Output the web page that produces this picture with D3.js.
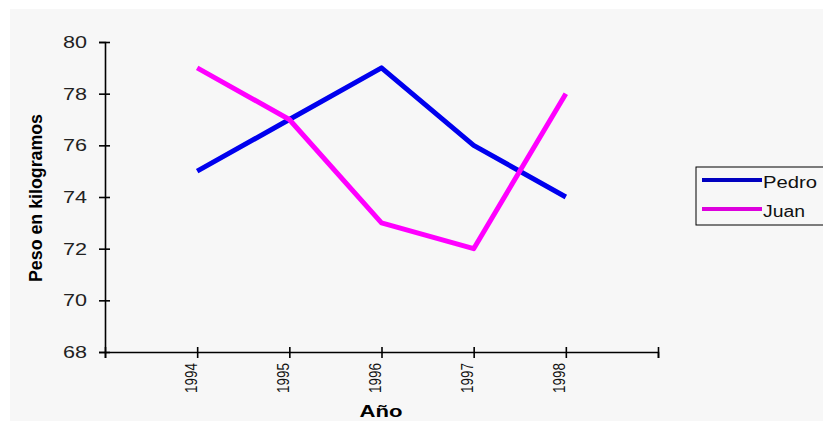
<!DOCTYPE html>
<html><head><meta charset="utf-8">
<script src="https://cdn.jsdelivr.net/npm/d3@7"></script>
<style>body{margin:0;background:#fff}svg{display:block}</style>
</head><body><svg id="c" width="823" height="423"></svg>
<script>
const years = [1994, 1995, 1996, 1997, 1998];
const pedro = [75, 77, 79, 76, 74];
const juan = [79, 77, 73, 72, 78];
const yTicks = [68, 70, 72, 74, 76, 78, 80];
const seriesNames = ["Pedro", "Juan"];
const seriesColors = ["#0000ee", "#ff00ff"];
const legendColors = ["#0000c0", "#dd00dd"];

const svg = d3.select("#c");
svg.append("rect").attr("x", 10).attr("y", 9).attr("width", 813).attr("height", 412).attr("fill", "#f7f7f7");

const x = d3.scaleLinear().domain([1993, 1999]).range([105, 658]);
const y = d3.scaleLinear().domain([68, 80]).range([352, 42]);

const font = "Arial, 'Liberation Sans', sans-serif";

// Y axis
const ya = svg.append("g").attr("transform", "translate(105,0)")
  .call(d3.axisLeft(y).tickValues(yTicks).tickSize(6).tickPadding(12).tickFormat(d3.format("d")));
ya.selectAll(".tick line").attr("x1", 5).attr("x2", -6);
// X axis
const xa = svg.append("g").attr("transform", "translate(0,352)")
  .call(d3.axisBottom(x).tickValues([1993,1994,1995,1996,1997,1998,1999]).tickSize(6).tickFormat(d => years.includes(d) ? d : ""));
xa.selectAll(".tick line").attr("y1", -5).attr("y2", 6);
[ya, xa].forEach(g => {
  g.select(".domain").attr("stroke", "#000").attr("stroke-width", 1.6);
  g.selectAll(".tick line").attr("stroke", "#000").attr("stroke-width", 1.6);
  g.selectAll(".tick text").attr("font-family", font).attr("fill", "#222");
});
ya.selectAll(".tick text").attr("font-size", 17).attr("textLength", 24).attr("lengthAdjust", "spacingAndGlyphs");
xa.selectAll(".tick text").attr("transform", "rotate(-90)").attr("text-anchor", "end")
  .attr("x", -11).attr("y", -1).attr("dy", 0).style("font-size", "16px").attr("fill", "#111")
  .filter(function() { return this.textContent !== ""; })
  .attr("textLength", 30).attr("lengthAdjust", "spacingAndGlyphs");

// Lines
const line = d3.line().x((d, i) => x(years[i])).y(d => y(d));
[pedro, juan].forEach((s, k) => {
  svg.append("path").datum(s).attr("d", line).attr("fill", "none")
    .attr("stroke", seriesColors[k]).attr("stroke-width", 5).attr("stroke-linejoin", "round");
});

// Titles
svg.append("text").attr("x", 381).attr("y", 417).attr("text-anchor", "middle")
  .attr("font-family", font).attr("font-weight", "bold").attr("font-size", 17)
  .attr("textLength", 43).attr("lengthAdjust", "spacingAndGlyphs").text("Año");
svg.append("text").attr("transform", "translate(42,198) rotate(-90)").attr("text-anchor", "middle")
  .attr("font-family", font).attr("font-weight", "bold").attr("font-size", 18)
  .attr("textLength", 168).attr("lengthAdjust", "spacingAndGlyphs").text("Peso en kilogramos");

// Legend
const lg = svg.append("g");
lg.append("rect").attr("x", 696).attr("y", 167).attr("width", 128).attr("height", 58)
  .attr("fill", "#f7f7f7").attr("stroke", "#000").attr("stroke-width", 1);
const legendW = [54, 42];
seriesNames.forEach((n, k) => {
  const yy = 180 + k * 29;
  lg.append("line").attr("x1", 702).attr("x2", 762).attr("y1", yy).attr("y2", yy)
    .attr("stroke", legendColors[k]).attr("stroke-width", 4);
  lg.append("text").attr("x", 763).attr("y", yy + 8)
    .attr("font-family", font).attr("font-size", 16).attr("fill", "#111")
    .attr("textLength", legendW[k]).attr("lengthAdjust", "spacingAndGlyphs").text(n);
});
</script></body></html>
